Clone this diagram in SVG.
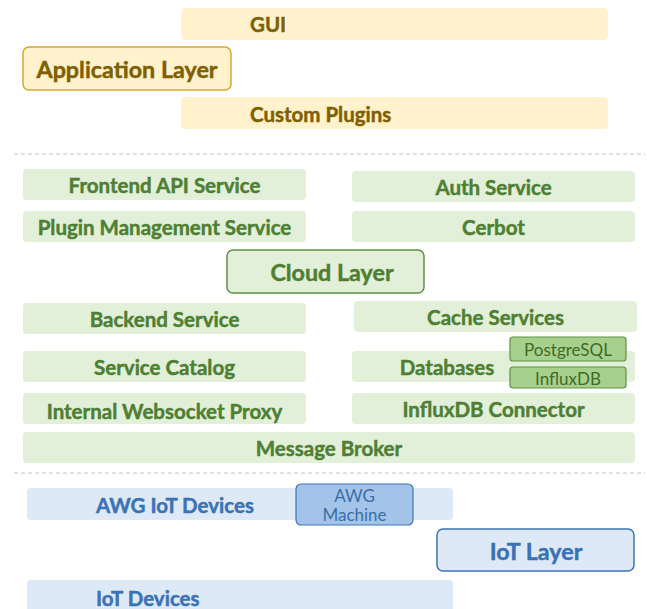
<svg xmlns="http://www.w3.org/2000/svg" width="647" height="609" viewBox="0 0 647 609">
  <style>
    text { font-family: Lato, "Open Sans", "Liberation Sans", sans-serif; font-weight: bold; dominant-baseline: central; stroke-width: 0.45; }
    .app rect { fill: #fff2cc; }
    .app text { fill: #7f6000; stroke: #7f6000; font-size: 20.5px; }
    .cloud rect { fill: #e2efd9; }
    .cloud text { fill: #4e7f32; stroke: #4e7f32; font-size: 20.5px; text-anchor: middle; }
    .iot rect { fill: #dde9f6; }
    .iot text { fill: #3a72b5; stroke: #3a72b5; font-size: 20.5px; }
    .layer text { font-size: 23.3px; text-anchor: middle; }
    .app.layer rect { stroke: #d6a82c; stroke-width: 1.5; }
    .cloud.layer rect { stroke: #5f9143; stroke-width: 1.5; }
    .iot.layer rect { stroke: #3e74b5; stroke-width: 1.5; }
    .sub rect { fill: #a8d08d; stroke: #5f9143; stroke-width: 1.2; }
    .sub text { fill: #3f6b28; stroke: none; font-weight: normal; font-size: 17px; text-anchor: middle; }
    .machine rect { fill: #a3c4e8; stroke: #3e74b5; stroke-width: 1.2; }
    .machine text { fill: #3a6ea5; stroke: none; font-weight: normal; font-size: 17px; text-anchor: middle; }
    .divider { stroke: #c4c4c4; stroke-width: 1; stroke-dasharray: 4 3; fill: none; }
  </style>

  <!-- Application layer -->
  <g id="gui" class="app"><rect x="181" y="8" width="427" height="32" rx="4"/><text x="250" y="24">GUI</text></g>
  <g id="application-layer" class="app layer"><rect x="23" y="47" width="208" height="43" rx="6"/><text x="127" y="68.5">Application Layer</text></g>
  <g id="custom-plugins" class="app"><rect x="181" y="97" width="427" height="32" rx="4"/><text x="250" y="114">Custom Plugins</text></g>

  <g id="connectors">
    <line class="divider" x1="14" y1="154" x2="645" y2="154"/>
    <line class="divider" x1="14" y1="473" x2="645" y2="473"/>
  </g>

  <!-- Cloud layer -->
  <g id="frontend-api" class="cloud"><rect x="23" y="169" width="283" height="31" rx="4"/><text x="164.5" y="185">Frontend API Service</text></g>
  <g id="auth-service" class="cloud"><rect x="352" y="171" width="283" height="31" rx="4"/><text x="493.5" y="187">Auth Service</text></g>
  <g id="plugin-management" class="cloud"><rect x="23" y="211" width="283" height="31" rx="4"/><text x="164.5" y="227">Plugin Management Service</text></g>
  <g id="cerbot" class="cloud"><rect x="352" y="211" width="283" height="31" rx="4"/><text x="493.5" y="227">Cerbot</text></g>
  <g id="cloud-layer" class="cloud layer"><rect x="227" y="250" width="197" height="43" rx="6"/><text x="332" y="272">Cloud Layer</text></g>
  <g id="backend-service" class="cloud"><rect x="23" y="303" width="283" height="31" rx="4"/><text x="164.5" y="319">Backend Service</text></g>
  <g id="cache-services" class="cloud"><rect x="354" y="301" width="283" height="31" rx="4"/><text x="495.5" y="317">Cache Services</text></g>
  <g id="service-catalog" class="cloud"><rect x="23" y="351" width="283" height="31" rx="4"/><text x="164.5" y="367">Service Catalog</text></g>
  <g id="databases" class="cloud"><rect x="352" y="351" width="283" height="31" rx="4"/><text x="447" y="367">Databases</text></g>
  <g id="postgresql" class="sub"><rect x="510" y="337" width="116" height="24" rx="3"/><text x="568" y="349.5">PostgreSQL</text></g>
  <g id="influxdb" class="sub"><rect x="510" y="367" width="116" height="21" rx="3"/><text x="568" y="378">InfluxDB</text></g>
  <g id="websocket-proxy" class="cloud"><rect x="23" y="393" width="283" height="31" rx="4"/><text x="164.5" y="411">Internal Websocket Proxy</text></g>
  <g id="influxdb-connector" class="cloud"><rect x="352" y="393" width="283" height="31" rx="4"/><text x="493.5" y="409">InfluxDB Connector</text></g>
  <g id="message-broker" class="cloud"><rect x="23" y="432" width="612" height="31" rx="4"/><text x="329" y="448">Message Broker</text></g>

  <!-- IoT layer -->
  <g id="awg-iot-devices" class="iot"><rect x="27" y="488" width="426" height="32" rx="4"/><text x="96" y="504.5">AWG IoT Devices</text></g>
  <g id="awg-machine" class="machine"><rect x="296" y="484" width="117" height="41" rx="5"/><text x="354.5" y="495">AWG</text><text x="354.5" y="514">Machine</text></g>
  <g id="iot-layer" class="iot layer"><rect x="437" y="529" width="197" height="42" rx="6"/><text x="536" y="551">IoT Layer</text></g>
  <g id="iot-devices" class="iot"><rect x="27" y="580" width="426" height="40" rx="4"/><text x="96" y="597.5">IoT Devices</text></g>
</svg>
